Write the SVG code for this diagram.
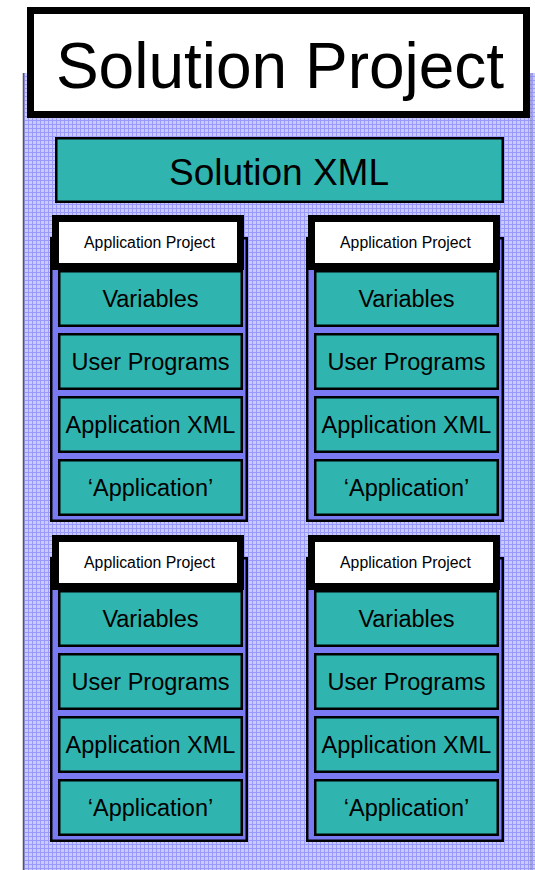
<svg xmlns="http://www.w3.org/2000/svg" width="535" height="870" viewBox="0 0 535 870">
  <defs>
    <!-- fine blue grid used as the project background -->
    <pattern id="grid" width="4" height="4" patternUnits="userSpaceOnUse">
      <rect width="4" height="4" fill="#CACAFF"/>
      <rect width="1" height="4" fill="#9A9AFA"/>
      <rect width="4" height="1" fill="#9A9AFA"/>
    </pattern>
    <style>
      text { font-family: "Liberation Sans", Arial, sans-serif; fill: #000; text-anchor: middle; }
      .frame { fill: #7A7AF2; stroke: #000; stroke-width: 2.5; }
      .tab { fill: #fff; stroke: #000; stroke-width: 7; }
      .item { fill: #2FB4AF; stroke: #000; stroke-width: 2.5; }
      .item-text { font-size: 23.5px; }
      .tab-text { font-size: 15.8px; }
    </style>
    <!-- one application project column -->
    <g id="app">
      <rect class="frame" x="51.25" y="238.25" width="195.5" height="282.5"/>
      <rect class="tab" x="55.5" y="218.5" width="185" height="48"/>
      <text class="tab-text" x="149.5" y="248">Application Project</text>
      <rect class="item" x="59.25" y="271.25" width="182.5" height="54.5"/>
      <text class="item-text" x="150.5" y="307">Variables</text>
      <rect class="item" x="59.25" y="334.25" width="182.5" height="54.5"/>
      <text class="item-text" x="150.5" y="370">User Programs</text>
      <rect class="item" x="59.25" y="397.25" width="182.5" height="54.5"/>
      <text class="item-text" x="150.5" y="433">Application XML</text>
      <rect class="item" x="59.25" y="460.25" width="182.5" height="54.5"/>
      <text class="item-text" x="150.5" y="496">‘Application’</text>
    </g>
  </defs>

  <rect width="535" height="870" fill="#fff"/>

  <!-- solution project background -->
  <g id="solution-project">
    <rect x="23" y="73" width="515" height="800" fill="url(#grid)"/>
    <line x1="23.5" y1="73" x2="23.5" y2="870" stroke="#555" stroke-width="1.5"/>
    <line x1="531" y1="73" x2="531" y2="870" stroke="#8080B0" stroke-width="1"/>
  </g>

  <!-- title -->
  <g id="title">
    <rect x="30.5" y="10.5" width="496" height="104" fill="#fff" stroke="#000" stroke-width="7"/>
    <text x="280" y="88" font-size="64">Solution Project</text>
  </g>

  <g id="solution-xml">
    <rect x="56.25" y="138.25" width="446.5" height="63.5" fill="#2FB4AF" stroke="#000" stroke-width="2.5"/>
    <text x="279" y="185" font-size="37">Solution XML</text>
  </g>

  <g id="app-top-left"><use href="#app"/></g>
  <g id="app-top-right"><use href="#app" transform="translate(256,0)"/></g>
  <g id="app-bottom-left"><use href="#app" transform="translate(0,320)"/></g>
  <g id="app-bottom-right"><use href="#app" transform="translate(256,320)"/></g>

  <g id="connectors"/>
</svg>
